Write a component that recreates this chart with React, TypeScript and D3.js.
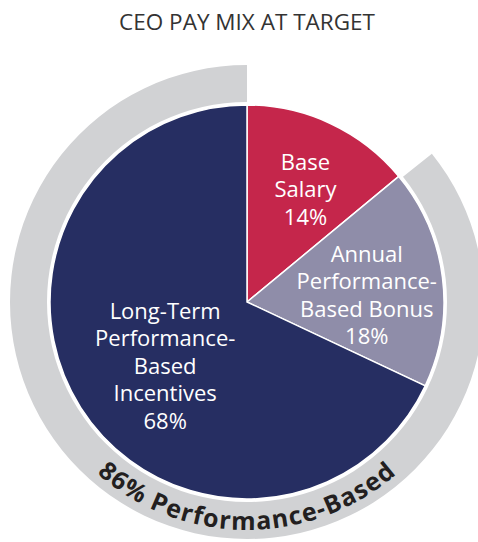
import React from "react";
import * as d3 from "d3";

const title = "CEO PAY MIX AT TARGET";
const categories = ["Base Salary", "Annual Performance-Based Bonus", "Long-Term Performance-Based Incentives"];
const values = [14, 18, 68];
const labelLines = [
  ["Base", "Salary", "14%"],
  ["Annual", "Performance-", "Based Bonus", "18%"],
  ["Long-Term", "Performance-", "Based", "Incentives", "68%"],
];
const performanceBased = [false, true, true];
const ringLabel = "86% Performance-Based";

const colors = ["#c5264b", "#8f8da9", "#262e62"];
const W = 478;
const H = 542;
const cx = 247;
const cy = 302;
const pieR = 197;
const ringInner = 200;
const ringOuter = 237;
const textR = 228;
const FONT = "'Open Sans', 'DejaVu Sans', sans-serif";
// label placement: radius and angle tweak (degrees) relative to slice middle
const labelPlace = [
  { r: 128, da: 2 },
  { r: 120, da: 3.4 },
  { r: 103, da: -5 },
];

export default function App() {
  const pie = d3.pie<number>().sort(null).startAngle(0).endAngle(2 * Math.PI);
  const arcs = pie(values);
  const arc = d3.arc<d3.PieArcDatum<number>>().innerRadius(0).outerRadius(pieR);

  const perfArcs = arcs.filter((_, i) => performanceBased[i]);
  const ringStart = d3.min(perfArcs, (a) => a.startAngle)! + 0.015;
  const ringEnd = d3.max(perfArcs, (a) => a.endAngle)!;
  const ringPath = d3.arc()({
    innerRadius: ringInner,
    outerRadius: ringOuter,
    startAngle: ringStart,
    endAngle: ringEnd,
  } as any) as string;

  const textPath = `M ${cx - textR} ${cy} A ${textR} ${textR} 0 0 0 ${cx + textR} ${cy}`;
  const lineH = 27.5;

  return (
    <svg width={W} height={H} style={{ position: "absolute", left: 0, top: 0, background: "#fff" }}>
      <text x={cx} y={30} textAnchor="middle" fontFamily={FONT} fontSize={22.5} fill="#333">
        {title}
      </text>
      <path d={ringPath} transform={`translate(${cx},${cy})`} fill="#d1d2d4" />
      <defs>
        <path id="ringText" d={textPath} />
      </defs>
      <text fontFamily={FONT} fontWeight="bold" fontSize={25} fill="#231f20" letterSpacing={1.2}>
        <textPath href="#ringText" startOffset="50%" textAnchor="middle">
          {ringLabel}
        </textPath>
      </text>
      <g transform={`translate(${cx},${cy})`}>
        {arcs.map((a, i) => (
          <path key={categories[i]} d={arc(a) as string} fill={colors[i]} stroke="#fff" strokeWidth={1.5} />
        ))}
        {arcs.map((a, i) => {
          const mid = (a.startAngle + a.endAngle) / 2 + (labelPlace[i].da * Math.PI) / 180;
          const x = Math.sin(mid) * labelPlace[i].r;
          const y = -Math.cos(mid) * labelPlace[i].r;
          const lines = labelLines[i];
          const y0 = y - ((lines.length - 1) * lineH) / 2;
          return (
            <text key={"l" + i} textAnchor="middle" fontFamily={FONT} fontSize={22} fill="#fff">
              {lines.map((ln, j) => (
                <tspan key={j} x={x} y={y0 + j * lineH} dominantBaseline="central">
                  {ln}
                </tspan>
              ))}
            </text>
          );
        })}
      </g>
    </svg>
  );
}
